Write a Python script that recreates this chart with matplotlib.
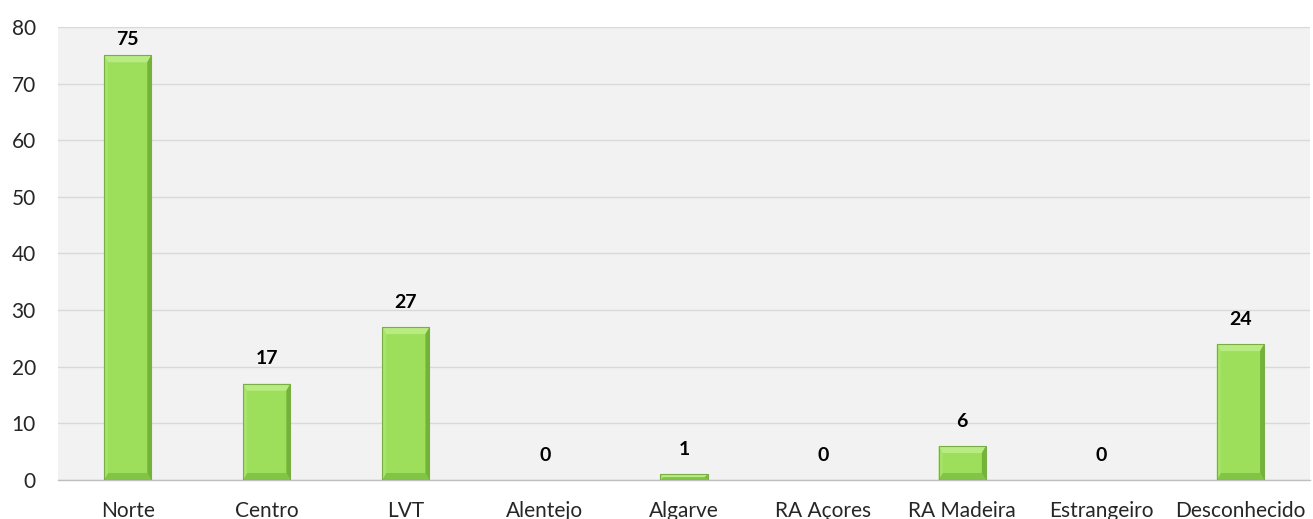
import numpy as np
import matplotlib.pyplot as plt
from matplotlib.patches import Polygon

regions = ['Norte', 'Centro', 'LVT', 'Alentejo', 'Algarve', 'RA Açores',
           'RA Madeira', 'Estrangeiro', 'Desconhecido']
counts = [75, 17, 27, 0, 1, 0, 6, 0, 24]
yticks = [0, 10, 20, 30, 40, 50, 60, 70, 80]

plt.rcParams['font.family'] = ['Lato', 'DejaVu Sans']

fig = plt.figure(figsize=(13.13, 5.19), dpi=100)
ax = fig.add_axes([0.0442, 0.0751, 0.9535, 0.873])
ax.set_facecolor('#f2f2f2')

x = np.arange(len(regions))
ax.set_xlim(-0.5, len(regions) - 0.5)
ax.set_ylim(0, 80)

bars = ax.bar(x, counts, width=0.34, color='#9ddf5b', edgecolor='none',
              zorder=3)

# bevel effect, worked out in pixels then mapped back to data
inv = ax.transData.inverted()
for b in bars:
    h = b.get_height()
    if h <= 0:
        continue
    (x0, y0), (x1, y1) = ax.transData.transform(
        [(b.get_x(), 0), (b.get_x() + b.get_width(), h)])
    dy = min(7, (y1 - y0) / 2)
    dx = min(4, dy)
    o = [(x0, y0), (x1, y0), (x1, y1), (x0, y1)]
    i = [(x0 + dx, y0 + dy), (x1 - dx, y0 + dy), (x1 - dx, y1 - dy), (x0 + dx, y1 - dy)]
    faces = [([o[3], o[2], i[2], i[3]], '#b8ec82'),   # top
             ([o[0], o[1], i[1], i[0]], '#82c445'),   # bottom
             ([o[0], o[3], i[3], i[0]], '#a6e46b'),   # left
             ([o[1], o[2], i[2], i[1]], '#74b337')]   # right
    for pts, c in faces:
        ax.add_patch(Polygon(inv.transform(pts), closed=True, facecolor=c,
                             edgecolor='none', zorder=3.5))
    ax.add_patch(Polygon(inv.transform(o), closed=True, fill=False,
                         edgecolor='#79ad45', linewidth=0.8, zorder=4))

for xi, v in zip(x, counts):
    ax.text(xi, min(v + 4.4, 77.7), str(v), ha='center', va='center',
            fontsize=14, fontweight='bold', color='black', zorder=5)

ax.set_yticks(yticks)
ax.set_xticks(x)
ax.set_xticklabels(regions)
ax.tick_params(axis='both', length=0, labelsize=15, colors='#262626')
ax.tick_params(axis='x', pad=15)
ax.tick_params(axis='y', pad=16)

ax.grid(axis='y', color='#d9d9d9', linewidth=1.0, zorder=0)
ax.set_axisbelow(True)
for s in ['top', 'right', 'left']:
    ax.spines[s].set_visible(False)
ax.spines['bottom'].set_color('#bfbfbf')
ax.spines['bottom'].set_linewidth(1.0)

fig.savefig('out.png', dpi=100, facecolor='white')
